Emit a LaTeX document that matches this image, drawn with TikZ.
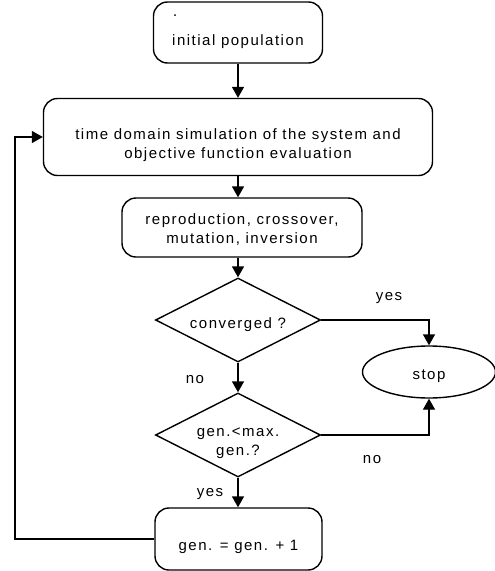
\documentclass[tikz,border=0pt]{standalone}
\usepackage{fontspec}
\setmainfont{Liberation Sans}[LetterSpace=10]
\usetikzlibrary{shapes.geometric,arrows.meta}
\tikzset{
  box/.style={draw,line width=1.4pt,rounded corners=14pt,inner sep=0pt},
  dia/.style={draw,diamond,line width=1.4pt,inner sep=0pt,aspect=2},
  oval/.style={draw,ellipse,line width=1.4pt,inner sep=0pt},
  txt/.style={align=center,inner sep=0pt,font=\fontsize{15}{19}\selectfont},
  lbl/.style={inner sep=0pt,font=\fontsize{15}{19}\selectfont},
  conn/.style={line width=1.4pt,-{Triangle[width=12pt,length=11pt]}},
  wire/.style={line width=1.4pt}
}
\begin{document}
\begin{tikzpicture}[x=1pt,y=-1pt]
\useasboundingbox (0,0) rectangle (495,571);
\node[box,minimum width=169pt,minimum height=61pt] (b1) at (238,32.5) {};
\fill (175,15) circle (1pt);
\node[txt] (t1) at (238,42) {initial population};
\node[box,minimum width=389pt,minimum height=77pt] (b2) at (238,137) {};
\node[txt] (t2) at (238,145) {time domain simulation of the system and\\objective function evaluation};
\node[box,minimum width=240pt,minimum height=59pt] (b3) at (242,227.5) {};
\node[txt] (t3) at (242,230) {reproduction, crossover,\\mutation, inversion};
\node[dia,minimum width=165pt,minimum height=84pt] (d1) at (238,320) {};
\node[txt] (t4) at (238,325) {converged ?};
\node[dia,minimum width=165pt,minimum height=84pt] (d2) at (238,435) {};
\node[txt] (t5) at (238,443) {gen.<max.\\gen.?};
\node[oval,minimum width=133pt,minimum height=52pt] (stop) at (429,372) {};
\node[txt] (t6) at (429,376) {stop};
\node[box,minimum width=167pt,minimum height=62pt] (b4) at (238.5,539) {};
\node[txt] (t7) at (238.5,547) {gen. = gen. + 1};
\node[lbl] (l1) at (389,298) {yes};
\node[lbl] (l2) at (195,380) {no};
\node[lbl] (l3) at (372,460) {no};
\node[lbl] (l4) at (210,494) {yes};
\coordinate (fb) at (15,539);
\draw[conn] (b1.south) -- (b1.south |- b2.north);
\draw[conn] (b2.south) -- (b2.south |- b3.north);
\draw[conn] (b3.south -| d1.north) -- (d1.north);
\draw[conn] (d1.south) -- (d2.north);
\draw[conn] (d2.south) -- (b4.north -| d2.south);
\draw[conn] (d1.east) -| (stop);
\draw[conn] (d2.east) -| (stop);
\draw[conn] (b4.west) -- (fb) |- (b2.west);
\end{tikzpicture}
\end{document}
